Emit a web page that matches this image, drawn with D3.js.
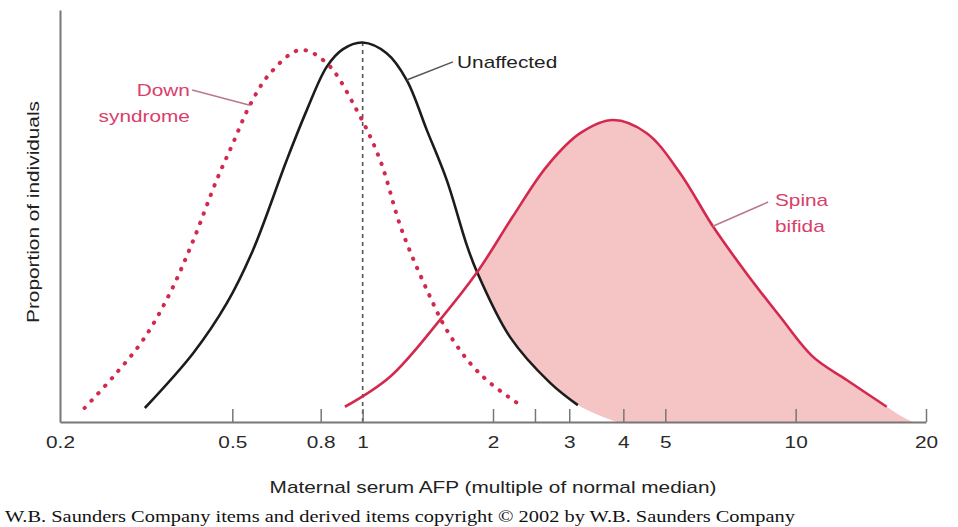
<!DOCTYPE html>
<html>
<head>
<meta charset="utf-8">
<script src="https://cdn.jsdelivr.net/npm/d3@7"></script>
<style>
    body { margin: 0; background: #fff; }
    svg { display: block; }
    text { font-family: "Liberation Sans", Arial, sans-serif; }
</style>
</head>
<body>
<svg id="chart"></svg>
<script>
// maternal serum AFP (multiple of median) and relative proportion of individuals
var unaffectedX = [0.314, 0.406, 0.486, 0.558, 0.668, 0.743, 0.826, 0.901, 1.0, 1.136, 1.264, 1.406, 1.564, 1.739, 1.837, 2.19, 2.71, 3.14];
var unaffectedY = [3.4, 16.7, 28.9, 41.7, 63.6, 75.7, 86.2, 90.5, 92.1, 89.5, 83.0, 70.9, 58.7, 43.0, 36.4, 20.6, 9.5, 4.1];

var downX = [0.228, 0.265, 0.311, 0.359, 0.406, 0.460, 0.502, 0.549, 0.611, 0.717, 0.826, 0.969, 1.097, 1.231, 1.431, 1.564, 1.770, 1.968, 2.31];
var downY = [3.4, 10.9, 19.9, 31.3, 44.0, 58.7, 67.7, 76.9, 84.6, 90.3, 87.1, 75.7, 63.6, 46.6, 30.4, 22.3, 14.3, 9.5, 4.1];

var spinaX = [0.910, 1.157, 1.509, 1.834, 2.22, 2.66, 3.18, 3.79, 4.53, 5.41, 6.44, 7.71, 9.20, 10.97, 13.12, 16.23];
var spinaY = [3.7, 11.0, 24.8, 36.2, 49.8, 62.0, 70.1, 73.3, 70.1, 60.4, 47.5, 36.0, 25.6, 15.8, 10.2, 3.7];

// where the shaded area runs on down to the axis
var unaffectedTailX = [3.50, 3.87];
var unaffectedTailY = [1.7, 0];
var spinaTailX = [17.42, 18.66];
var spinaTailY = [1.6, 0];

var tickValues = [0.2, 0.5, 0.8, 1, 2, 2.5, 3, 4, 5, 10, 20];
var tickLabels = ["0.2", "0.5", "0.8", "1", "2", "", "3", "4", "5", "10", "20"];

var w = 958;
var h = 527;
var red = "#d3294f";
var pink = "#f5c4c4";
var labelRed = "#d8406a";
var stretch = 1.3; // the original lettering is set wide

var svg = d3.select("#chart")
    .attr("width", w)
    .attr("height", h);

var x = d3.scaleLog().domain([0.2, 20]).range([60, 926]);
var y = d3.scaleLinear().domain([0, 100]).range([422, 10]);

function points(xs, ys, from) {
    var out = [];
    xs.forEach(function (d, i) {
        if (from === undefined || d >= from) out.push([x(d), y(ys[i])]);
    });
    return out;
}

var line = d3.line().curve(d3.curveCatmullRom.alpha(0.5));

//Shaded area: spina bifida above the unaffected curve, right of their crossing
var cross = 1.83;
var upper = points(spinaX.concat(spinaTailX), spinaY.concat(spinaTailY), cross);
var lower = points(unaffectedX.concat(unaffectedTailX), unaffectedY.concat(unaffectedTailY), cross).reverse();
svg.append("path")
    .attr("d", line(upper) + line(lower).replace("M", "L") + "Z")
    .style("fill", pink)
    .style("stroke", "none");

//Dashed line at the median
svg.append("line")
    .attr("x1", x(1))
    .attr("x2", x(1))
    .attr("y1", y(0))
    .attr("y2", y(d3.max(unaffectedY)))
    .style("stroke", "#555")
    .style("stroke-width", 1.6)
    .style("stroke-dasharray", "4,4");

//Curves
svg.append("path")
    .attr("d", line(points(unaffectedX, unaffectedY)))
    .style("fill", "none")
    .style("stroke", "#1c1c1c")
    .style("stroke-width", 2.6);

svg.append("path")
    .attr("d", line(points(spinaX, spinaY)))
    .style("fill", "none")
    .style("stroke", red)
    .style("stroke-width", 2.6);

svg.append("path")
    .attr("d", line(points(downX, downY)))
    .style("fill", "none")
    .style("stroke", red)
    .style("stroke-width", 4)
    .style("stroke-linecap", "round")
    .style("stroke-dasharray", "0.5,9.5");

//Axes
var xAxis = svg.append("g")
    .attr("transform", "translate(0," + y(0) + ")")
    .call(d3.axisBottom(x)
        .tickValues(tickValues)
        .tickFormat(function (d, i) { return tickLabels[i]; })
        .tickSizeInner(-13)
        .tickSizeOuter(0)
        .tickPadding(15));
xAxis.select(".domain").style("stroke", "#777").style("stroke-width", 2);
xAxis.selectAll(".tick line").style("stroke", "#777").style("stroke-width", 1.5);
xAxis.select(".tick line").remove();
xAxis.selectAll(".tick text")
    .style("font-size", "16px")
    .style("fill", "#2a2a2a")
    .attr("transform", "scale(" + stretch + ",1)");

var yAxis = svg.append("g")
    .attr("transform", "translate(" + x(0.2) + ",0)")
    .call(d3.axisLeft(y).tickValues([]).tickSizeOuter(0));
yAxis.select(".domain").style("stroke", "#777").style("stroke-width", 2);

function label(px, py, str, anchor, color, rot) {
    svg.append("text")
        .attr("transform", "translate(" + px + "," + py + ")" + (rot ? " rotate(" + rot + ")" : "") + " scale(" + stretch + ",1)")
        .attr("text-anchor", anchor)
        .attr("dominant-baseline", "central")
        .style("font-size", "16px")
        .style("fill", color)
        .text(str);
}

//Axis titles
label((x(0.2) + x(20)) / 2, 487, "Maternal serum AFP (multiple of normal median)", "middle", "#222");
label(33, 212, "Proportion of individuals", "middle", "#222", -90);

//Curve labels with leader lines
var notes = [
    { lines: ["Down", "syndrome"], at: [0.399, 80.6], anchor: "end", color: labelRed, from: [0.549, 76.9], to: [0.404, 80.6], lead: "#b9788a" },
    { lines: ["Unaffected"], at: [1.652, 87.4], anchor: "start", color: "#222", from: [1.264, 83.0], to: [1.616, 87.4], lead: "#555" },
    { lines: ["Spina", "bifida"], at: [8.96, 53.9], anchor: "start", color: labelRed, from: [6.44, 47.5], to: [8.64, 53.4], lead: "#b9788a" }
];
notes.forEach(function (n) {
    svg.append("line")
        .attr("x1", x(n.from[0]))
        .attr("y1", y(n.from[1]))
        .attr("x2", x(n.to[0]))
        .attr("y2", y(n.to[1]))
        .style("stroke", n.lead)
        .style("stroke-width", 1.5);
    n.lines.forEach(function (t, i) {
        label(x(n.at[0]), y(n.at[1]) + i * 26, t, n.anchor, n.color);
    });
});

//Copyright line
svg.append("text")
    .attr("x", 5)
    .attr("y", 522)
    .attr("textLength", 790)
    .attr("lengthAdjust", "spacingAndGlyphs")
    .style("font-family", "'Liberation Serif', 'Times New Roman', serif")
    .style("font-size", "16px")
    .style("fill", "#111")
    .text("W.B. Saunders Company items and derived items copyright \u00a9 2002 by W.B. Saunders Company");
</script>
</body>
</html>
